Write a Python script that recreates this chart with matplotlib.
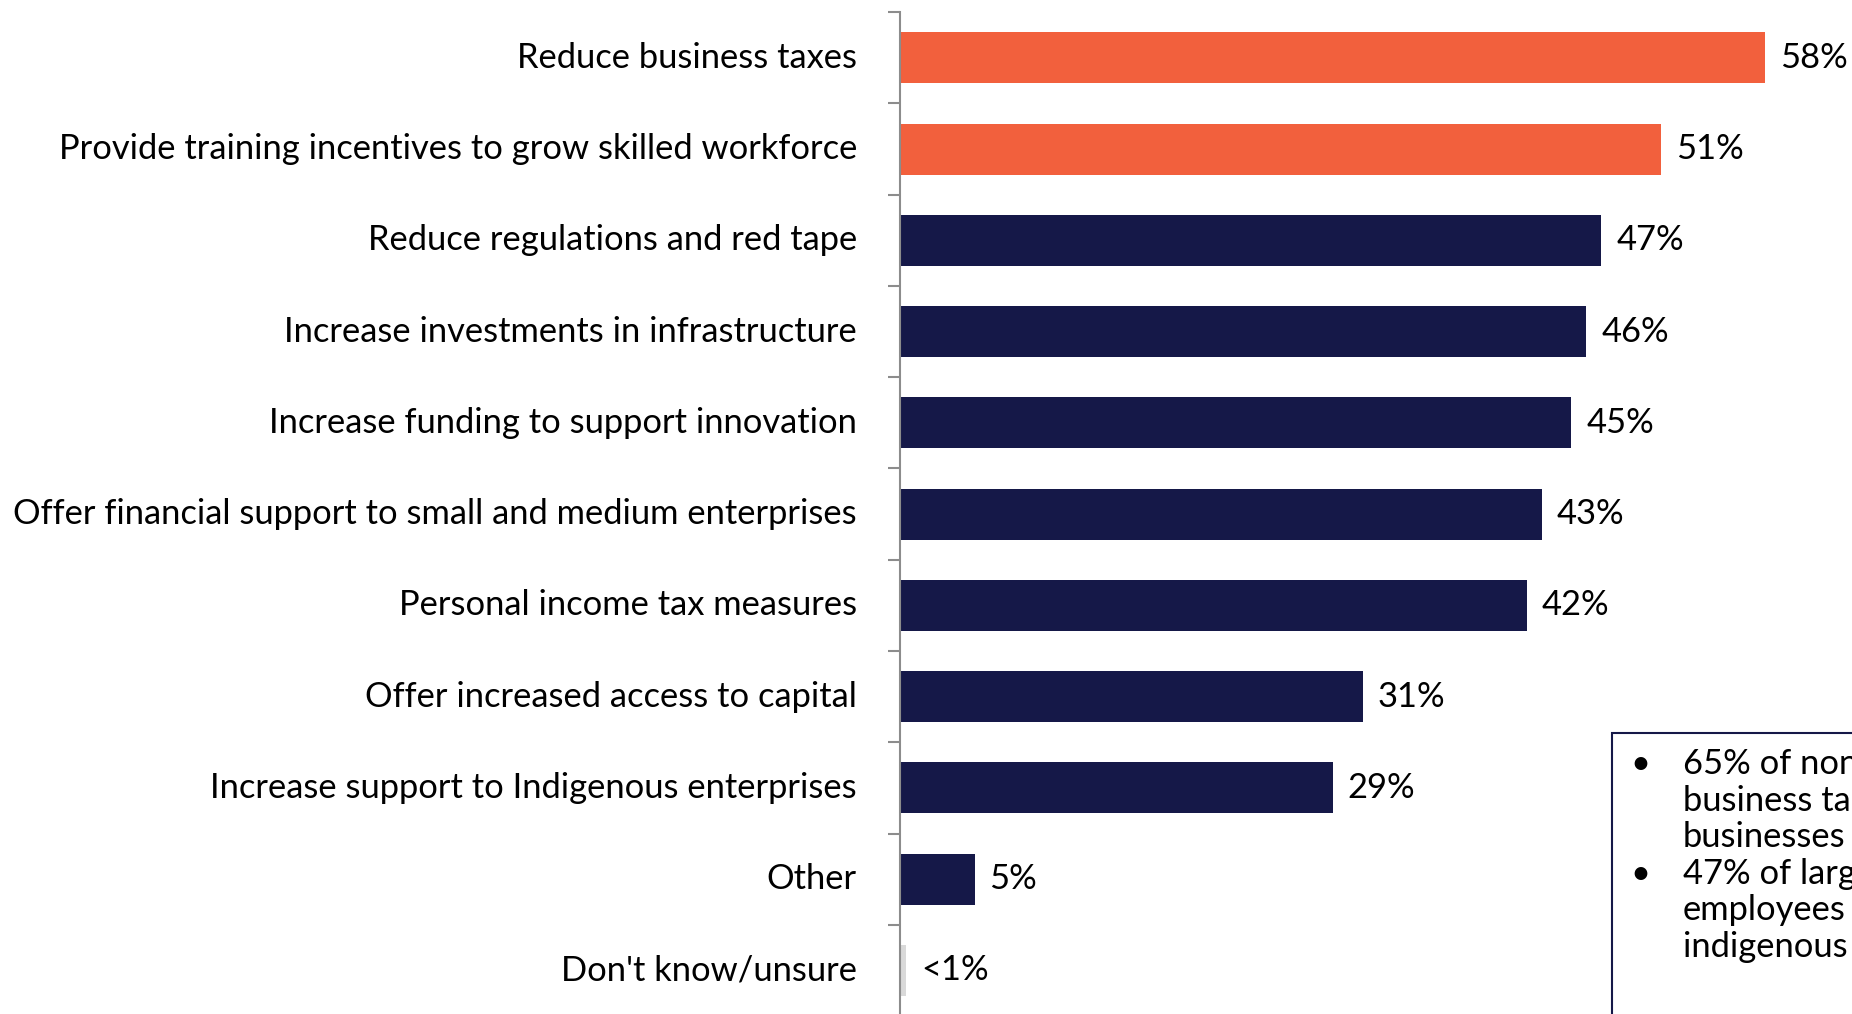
import numpy as np
import matplotlib.pyplot as plt
from matplotlib.patches import Rectangle

# Survey responses: preferred government measures (% of businesses)
categories = [
    "Reduce business taxes",
    "Provide training incentives to grow skilled workforce",
    "Reduce regulations and red tape",
    "Increase investments in infrastructure",
    "Increase funding to support innovation",
    "Offer financial support to small and medium enterprises",
    "Personal income tax measures",
    "Offer increased access to capital",
    "Increase support to Indigenous enterprises",
    "Other",
    "Don't know/unsure",
]
values = [58, 51, 47, 46, 45, 43, 42, 31, 29, 5, 0.4]
value_labels = ["58%", "51%", "47%", "46%", "45%", "43%", "42%", "31%", "29%", "5%", "<1%"]

ORANGE = "#F2603D"
NAVY = "#151848"
GREY = "#D9D9D9"
colors = [ORANGE, ORANGE] + [NAVY] * 8 + [GREY]

note_lines = [
    ("\u2022", "65% of non"),
    ("", "business ta"),
    ("", "businesses"),
    ("\u2022", "47% of larg"),
    ("", "employees"),
    ("", "indigenous"),
]

plt.rcParams["font.family"] = ["Lato", "DejaVu Sans"]
FS = 24.8

fig = plt.figure(figsize=(18.52, 10.14), dpi=100)
ax = fig.add_axes([900 / 1852, -0.002, 952 / 1852, 0.99])

y = np.arange(len(categories))
ax.barh(y, values, height=0.56, color=colors)

for yi, v, lab in zip(y, values, value_labels):
    ax.text(v + 1.0, yi, lab, va="center", ha="left", fontsize=FS, color="black")

ax.set_ylim(len(categories) - 0.5, -0.5)
ax.set_xlim(0, 63.8)

ax.set_yticks(y)
ax.set_yticklabels(categories, fontsize=FS, va="center")
ax.tick_params(axis="y", which="major", length=0, pad=31)
ax.set_yticks(np.arange(len(categories) + 1) - 0.5, minor=True)
ax.tick_params(axis="y", which="minor", length=9, width=1.5, color="#8C8C8C")

ax.set_xticks([])
for side in ["top", "right", "bottom"]:
    ax.spines[side].set_visible(False)
ax.spines["left"].set_color("#8C8C8C")
ax.spines["left"].set_linewidth(1.5)

# Call-out box in the lower right corner
W, H = 1852, 1014
fig.patches.append(Rectangle((1612 / W, -0.1), 0.3, (H - 733) / H + 0.1,
                             transform=fig.transFigure, fill=False,
                             ec=NAVY, lw=1.5))
for i, (bullet, line) in enumerate(note_lines):
    yy = 1 - (764 + i * 36.6) / H
    if bullet:
        fig.text(1630 / W, yy, bullet, fontsize=FS, va="center", ha="left")
    fig.text(1683 / W, yy, line, fontsize=FS, va="center", ha="left")

fig.savefig("out.png", dpi=100)
